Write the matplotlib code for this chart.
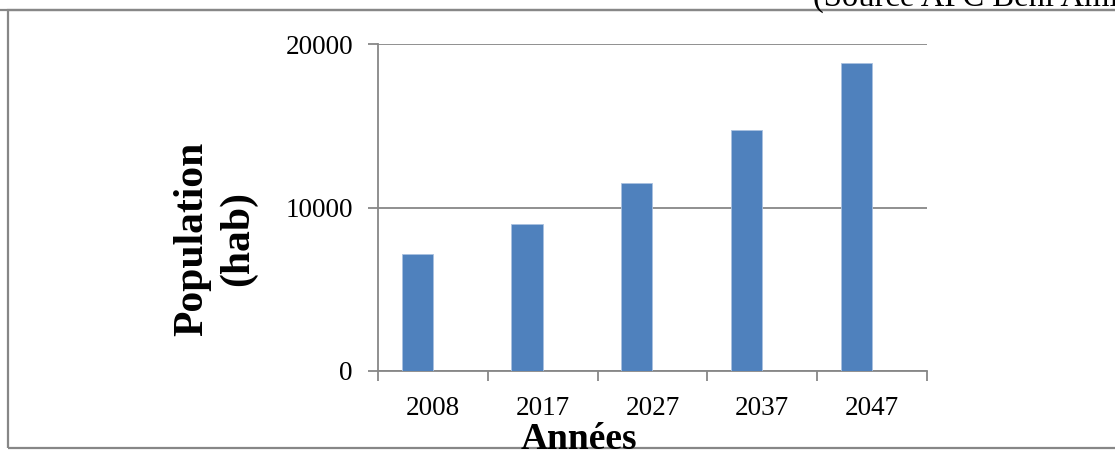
import matplotlib
matplotlib.use("Agg")
import matplotlib.pyplot as plt
from matplotlib.patches import Rectangle
import numpy as np

years = ["2008", "2017", "2027", "2037", "2047"]
population = [7180, 8990, 11500, 14760, 18860]
y_ticks = [0, 10000, 20000]

bar_color = "#4F81BD"
line_gray = "#878787"
serif = ["Liberation Serif", "DejaVu Serif"]

fig = plt.figure(figsize=(11.15, 4.5), dpi=100)
fig.patch.set_facecolor("white")

# outer frame around the chart area
fig.patches.append(Rectangle((8 / 1115, 2 / 450), 1.2, 438 / 450,
                             transform=fig.transFigure, fill=False,
                             edgecolor=line_gray, linewidth=1.6, zorder=0))

ax = fig.add_axes([378 / 1115, 1 - 371 / 450, (927 - 378) / 1115, (371 - 44) / 450])

# clustered layout with a 150% gap: the population bar sits in the first slot
x = np.arange(len(years))
bar_w = 1 / 3.5
ax.bar(x - bar_w / 2, population, width=bar_w, color=bar_color,
       edgecolor="#a9c1e0", linewidth=0.6, zorder=3)

ax.set_xlim(-0.5, len(years) - 0.5)
ax.set_ylim(0, 20000)

# category boundaries carry the tick marks, centres carry the labels
ax.set_xticks(np.arange(-0.5, len(years), 1.0))
ax.set_xticklabels([])
ax.set_xticks(x, minor=True)
ax.set_xticklabels(years, minor=True, fontsize=19.5, family=serif)
ax.tick_params(axis="x", which="major", length=7, width=1.3, color=line_gray,
               direction="out")
ax.tick_params(axis="x", which="minor", length=0, pad=18)

ax.set_yticks(y_ticks)
ax.set_yticklabels([str(v) for v in y_ticks], fontsize=19.5, family=serif)
ax.tick_params(axis="y", length=7, width=1.3, color=line_gray, direction="out",
               pad=11)

ax.yaxis.grid(True, color=line_gray, linewidth=1.3, zorder=0)
ax.set_axisbelow(True)

for side in ("top", "right"):
    ax.spines[side].set_visible(False)
for side in ("left", "bottom"):
    ax.spines[side].set_color(line_gray)
    ax.spines[side].set_linewidth(1.3)

fig.text(215 / 1115, 1 - 239 / 450, "Population\n(hab)", rotation=90,
         ha="center", va="center", multialignment="center", fontsize=30,
         fontweight="bold", family=serif, linespacing=1.25)

fig.text(579 / 1115, 1 - 449 / 450, "Années", ha="center", va="baseline",
         fontsize=27, fontweight="bold", family=serif)

fig.text(813 / 1115, 1 - 6 / 450, "(Source APC Beni Amir)", ha="left",
         va="baseline", fontsize=23.5, family=serif)

# rule under the source line
fig.add_artist(plt.Line2D([0, 1], [1 - 10 / 450, 1 - 10 / 450],
                          transform=fig.transFigure, color=line_gray,
                          linewidth=1.6))

fig.savefig("out.png", dpi=100, facecolor="white")
